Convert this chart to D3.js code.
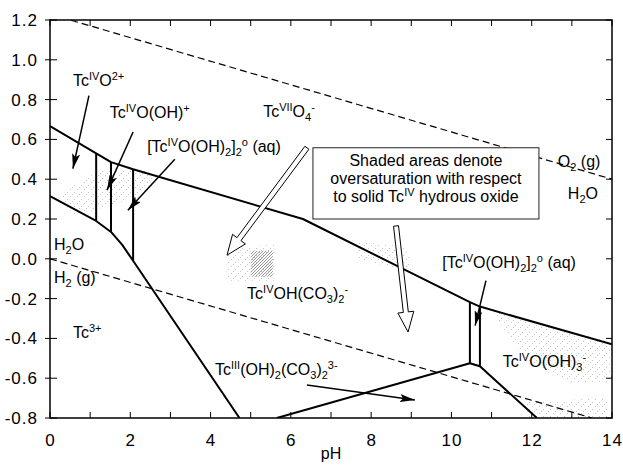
<!DOCTYPE html>
<meta charset="utf-8">
<style>
body { margin: 0; background: #fff; }
text { font-family: "Liberation Sans", Arial, sans-serif; fill: #000; }
.tick-label { font-size: 17px; letter-spacing: 1px; }
.lbl { font-size: 16px; }
.boundary { fill: none; stroke: #000; stroke-width: 2px; stroke-linejoin: round; }
.water { fill: none; stroke: #000; stroke-width: 1.2px; stroke-dasharray: 7,4; }
</style>
<body>
<script src="https://cdn.jsdelivr.net/npm/d3@7/dist/d3.min.js"></script>
<script>

// chart size and plot box
var width = 623, height = 469;
var margin = {top: 20, right: 11, bottom: 51, left: 50};

// axis ticks
var xTicks = d3.range(0, 15);           // minor ticks every pH unit
var xLabels = [0, 2, 4, 6, 8, 10, 12, 14];
var yTicks = [-0.8, -0.6, -0.4, -0.2, 0.0, 0.2, 0.4, 0.6, 0.8, 1.0, 1.2];

// solid boundaries  [pH, E(V)]
var upperBoundary = [[0, 0.667], [1.15, 0.53], [1.52, 0.486], [2.07, 0.45], [6.3, 0.2],
                     [10.46, -0.218], [10.71, -0.24], [14, -0.43]];
var lowerBoundary = [[0, 0.315], [1.15, 0.19], [1.52, 0.135], [1.8, 0.07], [2.07, -0.01], [4.72, -0.8]];
var tc3Boundary = [[5.65, -0.8], [10.46, -0.525], [10.71, -0.54], [12.13, -0.8]];
// vertical boundaries [pH, Etop, Ebottom]
var verticals = [[1.15, 0.53, 0.19], [1.52, 0.486, 0.135], [2.07, 0.45, -0.01],
                 [10.46, -0.218, -0.525], [10.71, -0.24, -0.54]];

// water stability lines
var o2Line = [[0, 1.23], [14, 0.40]];
var h2Line = [[0, 0.0], [13.5, -0.8]];

// shaded (oversaturated) areas
var shadeLight = [
  [[0.2, 0.32], [1.2, 0.44], [2.5, 0.45], [2.6, 0.36], [1.6, 0.27], [0.6, 0.22]],
  [[4.4, 0.06], [5.6, 0.07], [5.6, -0.11], [4.4, -0.11]],
  [[7.6, 0.09], [8.9, 0.06], [9.0, -0.07], [7.7, 0.0]],
  [[11.0, -0.26], [14, -0.42], [14, -0.62], [13.0, -0.62], [11.8, -0.5]],
  [[11.8, -0.72], [13.9, -0.7], [13.9, -0.8], [11.9, -0.8]]
];
var shadeDark = [
  [[5.0, 0.04], [5.55, 0.04], [5.55, -0.09], [5.0, -0.09]]
];

// species labels [text, pH, E]  (^{} superscript, _{} subscript)
var labels = [
  ["Tc^{IV}O^{2+}", 0.57, 0.867],
  ["Tc^{IV}O(OH)^{+}", 1.49, 0.708],
  ["[Tc^{IV}O(OH)_{2}]_{2}^{o} (aq)", 2.42, 0.538],
  ["Tc^{VII}O_{4}^{-}", 5.31, 0.713],
  ["O_{2} (g)", 12.65, 0.462],
  ["H_{2}O", 12.9, 0.30],
  ["H_{2}O", 0.1, 0.044],
  ["H_{2} (g)", 0.1, -0.122],
  ["Tc^{3+}", 0.57, -0.398],
  ["Tc^{IV}OH(CO_{3})_{2}^{-}", 4.91, -0.203],
  ["[Tc^{IV}O(OH)_{2}]_{2}^{o} (aq)", 9.77, -0.044],
  ["Tc^{IV}O(OH)_{3}^{-}", 11.28, -0.544],
  ["Tc^{III}(OH)_{2}(CO_{3})_{2}^{3-}", 4.11, -0.584]
];

// arrows [pH0, E0, pH1, E1]
var arrows = [
  [0.97, 0.82, 0.57, 0.453],
  [2.07, 0.637, 1.42, 0.345],
  [3.11, 0.50, 1.94, 0.244],
  [10.86, -0.11, 10.59, -0.336],
  [6.4, -0.634, 9.09, -0.71]
];
var hollowArrows = [
  [6.4, 0.558, 4.41, 0.018],
  [8.62, 0.165, 8.92, -0.368]
];

// note box
var boxPH = [6.55, 12.18], boxE = [0.558, 0.2];
var boxLines = ["Shaded areas denote", "oversaturation with respect", "to solid Tc^{IV} hydrous oxide"];

var x = d3.scaleLinear().domain([0, 14]).range([margin.left, width - margin.right]);
var y = d3.scaleLinear().domain([-0.8, 1.2]).range([height - margin.bottom, margin.top]);

var svg = d3.select("body").append("svg")
    .attr("width", width)
    .attr("height", height);

var defs = svg.append("defs");
defs.append("clipPath").attr("id", "plot")
  .append("rect")
    .attr("x", x(0)).attr("y", y(1.2))
    .attr("width", x(14) - x(0)).attr("height", y(-0.8) - y(1.2));

// stipple patterns
var pl = defs.append("pattern").attr("id", "stipLight")
    .attr("width", 7).attr("height", 7).attr("patternUnits", "userSpaceOnUse");
[[0, 0], [4, 3], [2, 5]].forEach(function(p) {
  pl.append("rect").attr("x", p[0]).attr("y", p[1]).attr("width", 1).attr("height", 1).attr("fill", "#c4c4c4");
});
var pd = defs.append("pattern").attr("id", "stipDark")
    .attr("width", 3).attr("height", 3).attr("patternUnits", "userSpaceOnUse");
[[0, 0], [2, 1], [1, 2]].forEach(function(p) {
  pd.append("rect").attr("x", p[0]).attr("y", p[1]).attr("width", 1).attr("height", 1).attr("fill", "#999");
});

defs.append("marker").attr("id", "head")
    .attr("markerUnits", "userSpaceOnUse")
    .attr("markerWidth", 16).attr("markerHeight", 8)
    .attr("refX", 15).attr("refY", 4)
    .attr("orient", "auto")
  .append("path").attr("d", "M0,0L15,4L0,8L3,4Z").attr("fill", "#000");

var line = d3.line().x(function(d) { return x(d[0]); }).y(function(d) { return y(d[1]); });

var plot = svg.append("g").attr("clip-path", "url(#plot)");

// shading
plot.selectAll(".shadeL").data(shadeLight).enter().append("path")
    .attr("d", function(d) { return line(d) + "Z"; })
    .attr("fill", "url(#stipLight)");
plot.selectAll(".shadeD").data(shadeDark).enter().append("path")
    .attr("d", function(d) { return line(d) + "Z"; })
    .attr("fill", "url(#stipDark)");

// water lines
plot.selectAll(".water").data([o2Line, h2Line]).enter().append("path")
    .attr("class", "water").attr("d", line);

// boundaries
plot.selectAll(".boundary").data([upperBoundary, lowerBoundary, tc3Boundary]).enter().append("path")
    .attr("class", "boundary").attr("d", line);
plot.selectAll(".vert").data(verticals).enter().append("line")
    .attr("stroke", "#000").attr("stroke-width", 2)
    .attr("x1", function(d) { return x(d[0]); }).attr("x2", function(d) { return x(d[0]); })
    .attr("y1", function(d) { return y(d[1]); }).attr("y2", function(d) { return y(d[2]); });

// frame
svg.append("rect")
    .attr("x", x(0)).attr("y", y(1.2))
    .attr("width", x(14) - x(0)).attr("height", y(-0.8) - y(1.2))
    .attr("fill", "none").attr("stroke", "#000").attr("stroke-width", 1.5);

// x ticks (inward, top and bottom)
svg.selectAll(".xtb").data(xTicks).enter().append("line")
    .attr("x1", x).attr("x2", x)
    .attr("y1", y(-0.8)).attr("y2", y(-0.8) - 6)
    .attr("stroke", "#000");
svg.selectAll(".xtt").data(xTicks).enter().append("line")
    .attr("x1", x).attr("x2", x)
    .attr("y1", y(1.2)).attr("y2", y(1.2) + 6)
    .attr("stroke", "#000");
svg.selectAll(".xl").data(xLabels).enter().append("text")
    .attr("class", "tick-label")
    .attr("x", function(d) { return x(d) + 0.5; })
    .attr("y", y(-0.8) + 28)
    .attr("text-anchor", "middle")
    .text(function(d) { return d; });

// y ticks
svg.selectAll(".ytl").data(yTicks).enter().append("line")
    .attr("x1", x(0) - 5).attr("x2", x(0) + 7)
    .attr("y1", y).attr("y2", y)
    .attr("stroke", "#000");
svg.selectAll(".ytr").data(yTicks).enter().append("line")
    .attr("x1", x(14) - 6).attr("x2", x(14))
    .attr("y1", y).attr("y2", y)
    .attr("stroke", "#000");
svg.selectAll(".yl").data(yTicks).enter().append("text")
    .attr("class", "tick-label")
    .attr("x", x(0) - 12)
    .attr("y", function(d) { return y(d) + 6; })
    .attr("text-anchor", "end")
    .text(function(d) { return d.toFixed(1); });

svg.append("text")
    .attr("class", "lbl")
    .attr("x", (x(0) + x(14)) / 2)
    .attr("y", y(-0.8) + 41)
    .attr("text-anchor", "middle")
    .text("pH");

// rich text: ^{..} superscript, _{..} subscript
function richText(sel, str) {
  var re = /(\^|_)\{([^}]*)\}|([^\^_]+)/g, m, shift = 0;
  while ((m = re.exec(str)) !== null) {
    var t = sel.append("tspan");
    if (m[3] !== undefined) {
      t.text(m[3]).attr("dy", -shift);
      shift = 0;
    } else {
      var target = m[1] === "^" ? -6 : 4;
      t.text(m[2]).style("font-size", "11px").attr("dy", target - shift);
      shift = target;
    }
  }
}

labels.forEach(function(l) {
  var t = svg.append("text").attr("class", "lbl")
      .attr("x", x(l[1])).attr("y", y(l[2]));
  richText(t, l[0]);
});

// note box
svg.append("rect")
    .attr("x", x(boxPH[0])).attr("y", y(boxE[0]))
    .attr("width", x(boxPH[1]) - x(boxPH[0])).attr("height", y(boxE[1]) - y(boxE[0]))
    .attr("fill", "#fff").attr("stroke", "#222").attr("stroke-width", 1);
boxLines.forEach(function(s, i) {
  var t = svg.append("text").attr("class", "lbl")
      .attr("x", (x(boxPH[0]) + x(boxPH[1])) / 2)
      .attr("y", y(boxE[0]) + 18 + i * 18)
      .attr("text-anchor", "middle");
  richText(t, s);
});

// filled arrows
svg.selectAll(".arrow").data(arrows).enter().append("line")
    .attr("stroke", "#000").attr("stroke-width", 1.5)
    .attr("x1", function(d) { return x(d[0]); }).attr("y1", function(d) { return y(d[1]); })
    .attr("x2", function(d) { return x(d[2]); }).attr("y2", function(d) { return y(d[3]); })
    .attr("marker-end", "url(#head)");

// hollow arrows
function hollow(d) {
  var sx = x(d[0]), sy = y(d[1]), tx = x(d[2]), ty = y(d[3]);
  var L = Math.hypot(tx - sx, ty - sy), ux = (tx - sx) / L, uy = (ty - sy) / L;
  var nx = -uy, ny = ux, w = 2.5, hw = 8, hl = 20;
  var bx = tx - ux * hl, by = ty - uy * hl;
  var pts = [[sx + nx * w, sy + ny * w], [bx + nx * w, by + ny * w], [bx + nx * hw, by + ny * hw],
             [tx, ty], [bx - nx * hw, by - ny * hw], [bx - nx * w, by - ny * w], [sx - nx * w, sy - ny * w]];
  return "M" + pts.map(function(p) { return p.join(","); }).join("L") + "Z";
}
svg.selectAll(".hollow").data(hollowArrows).enter().append("path")
    .attr("d", hollow)
    .attr("fill", "#fff").attr("stroke", "#000").attr("stroke-width", 1);

</script>
</body>
